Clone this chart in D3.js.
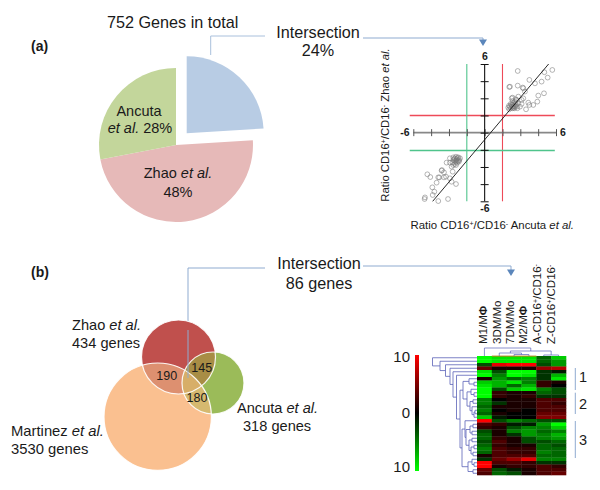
<!DOCTYPE html>
<html><head><meta charset="utf-8">
<script src="https://d3js.org/d3.v7.min.js"></script>
<style>
html,body{margin:0;padding:0;background:#fff}
svg{display:block}
text{font-family:"Liberation Sans",Arial,sans-serif;fill:#1a1a1a}
</style></head><body><svg id="c" width="600" height="490"></svg>
<script>
// ---------- data ----------
const pieNames=["Intersection","Zhao","Ancuta"];
const pieValues=[24,48,28];
const pieColors=["#b8cce4","#e6b9b8","#c3d69b"];
const axisTicks=[-6,-4.5,-3,-1.5,0,1.5,3,4.5,6];
const upX=[2.78,5.69,5.02,3.76,5.30,4.23,4.79,2.13,2.07,2.78,3.25,3.20,3.39,4.99,4.51,2.35,2.83,3.25,3.11,2.69,3.67,4.09,4.43,3.48,3.76,3.11,2.97,2.27,2.55,2.41,2.27,2.13,2.07,2.35,2.64,2.75,2.47,2.19,2.61,2.83,2.35,2.50,1.99,2.69,2.30,2.41,2.55,2.21,2.38,2.60,2.05,2.44];
const upY=[5.39,5.48,5.28,4.61,4.81,4.31,4.46,4.02,3.99,4.11,3.88,3.94,3.59,3.44,3.24,3.06,3.15,3.00,2.86,2.86,2.62,2.42,2.71,2.04,2.42,2.51,2.27,3.00,2.71,2.57,2.42,2.27,2.04,2.13,2.42,2.13,2.33,2.51,2.92,2.57,2.77,2.13,2.19,2.27,2.27,2.27,2.27,2.14,2.44,2.60,2.36,2.18];
const downX=[-4.82,-4.57,-3.59,-3.62,-3.90,-3.81,-3.42,-3.42,-3.25,-4.04,-4.40,-4.23,-4.37,-5.02,-5.05,-3.90,-3.08,-2.41,-2.78,-2.92,-2.69,-2.92,-3.20,-2.92,-2.64,-2.41,-2.21,-2.13,-2.30,-2.50,-2.64,-2.78,-2.50,-2.35,-2.21,-2.50,-2.35,-2.64,-2.07,-2.69,-2.41,-2.58,-2.28,-2.44,-2.16,-2.36];
const downY=[-3.64,-3.88,-3.27,-3.32,-3.91,-3.91,-3.47,-3.91,-3.85,-4.37,-4.78,-5.16,-5.45,-5.66,-5.80,-5.98,-5.80,-4.49,-4.29,-3.99,-3.41,-2.62,-2.62,-2.24,-2.39,-2.10,-2.16,-2.39,-2.62,-2.74,-2.83,-2.97,-2.24,-2.30,-2.45,-2.45,-2.48,-2.16,-2.24,-2.62,-2.83,-2.30,-2.20,-2.56,-2.52,-2.36];
const fitX=[-4.37,5.38];
const fitY=[-6,6];
const columns=["M1/MΦ","3DM/Mo","7DM/Mo","M2/MΦ","A-CD16+/CD16-","Z-CD16+/CD16-"];
const rows=[
[-10,-9,-9,-9,-4,-8],[-10,-9,-9,-9,-4,-6],[-3,9,10,10,-3,-6],[4,1,1,1,6,7],
[-9,-3,-10,-10,-2,-1],[-10,-5,-10,-9,-2,-7],[1,-6,-4,-5,-2,-9],[-8,-7,-9,-5,2,1],
[-9,-7,-4,-7,2,0],[-10,-3,-8,-9,-5,-3],[-10,2,1,1,-4,-3],[-10,2,1,2,-2,-2],
[-5,0,1,1,3,3],[-5,-2,1,1,3,2],[-4,1,1,1,3,3],[-5,0,1,0,3,3],
[-4,1,0,0,4,4],[-8,-1,0,0,5,5],[10,-3,-5,-4,-3,-3],[3,2,-1,-1,-6,-10],
[2,1,-3,-5,-5,-8],[-3,1,-5,-6,-4,-5],[-4,1,-2,-6,-5,-7],[-4,2,1,-3,-5,-6],
[-3,3,1,-3,-3,-4],[-4,2,1,1,-4,-3],[-5,3,2,2,-4,-4],[-4,3,2,2,-5,-4],
[1,3,3,3,-4,-4],[-2,4,6,9,-5,-5],[10,3,3,2,-2,-2],[10,1,2,2,3,2],
[4,-3,-1,1,3,3],[3,-4,-3,1,3,4]];
const rowTree=[44.5,0,[37,1,[31.5,2,[27,3,[24,4,[20.5,5,
   [17,
    [14,[8,6,[3,7,8]],[10,[6,9,[3,10,11]],[7,[4,12,13],[5,14,[3,[2,15,16],17]]]]],
    [15,[12,18,[11,[7,[4,19,20],[5,21,22]],[8,[5,23,24],[6,[3,25,26],[4,27,28]]]]],[9,[5,29,[3,30,31]],[4,32,33]]]]
  ]]]]]];
const colTree=[8,0,[5,[3,1,[1.5,2,3]],[1,4,5]]];
const colorTicks=[10,0,10];
const groupNames=["1","2","3"];
const vennNames=["Zhao","Ancuta","Martinez"];
const vennGenes=[434,318,3530];
const vennOverlap=[190,145,180];

// ---------- helpers ----------
const svg=d3.select("#c");
const label=(g,x,y,size,anchor,parts,extra)=>{
  const t=g.append("text").attr("x",x).attr("y",y).attr("font-size",size).attr("text-anchor",anchor||"start");
  parts.forEach(p=>{const s=t.append("tspan").text(p.t);
    if(p.i)s.attr("font-style","italic"); if(p.b)s.attr("font-weight","bold");
    if(p.sup){s.attr("font-size",size*.62).attr("dy",-size*.3);}
    if(p.after){s.attr("dy",size*.3);}
  });
  if(extra)extra(t);return t;};
const lineCol="#8fabd0", arrowCol="#5b86bb";
const poly=(pts,col,w)=>svg.append("path").attr("d",d3.line()(pts)).attr("fill","none").attr("stroke",col).attr("stroke-width",w||1);
const arrow=(x,y)=>svg.append("path").attr("d",d3.line()([[x-4,y-6.5],[x+4,y-6.5],[x,y]])+"Z").attr("fill",arrowCol);

// ---------- panel labels / connectors ----------
label(svg,31,51,14,"start",[{t:"(a)",b:1}]);
label(svg,31,277,14,"start",[{t:"(b)",b:1}]);
label(svg,107,28,16.2,"start",[{t:"752 Genes in total"}]);
label(svg,318,38,16.2,"middle",[{t:"Intersection"}]);
label(svg,318,56,16.2,"middle",[{t:"24%"}]);
label(svg,319,269,16.2,"middle",[{t:"Intersection"}]);
label(svg,319,289,16.2,"middle",[{t:"86 genes"}]);
poly([[210.7,55],[210.7,36],[265,36]],"#a9c0dc");
poly([[363,38],[483,38],[483,40]],lineCol);
arrow(483,46);
poly([[265,268],[188,268],[188,378]],lineCol);
poly([[363,266],[511,266],[511,270]],lineCol);
arrow(511,276);

// ---------- pie ----------
const arcs=d3.pie().sort(null).value(d=>d)(pieValues);
const arc=d3.arc().innerRadius(0).outerRadius(77);
const pieG=svg.append("g").attr("transform","translate(176,145)");
pieG.selectAll("path").data(arcs).join("path")
  .attr("d",arc).attr("fill",(d,i)=>pieColors[i])
  .attr("transform",(d,i)=>i===0?"translate(10.7,-11.7)":null);
label(svg,139,116,14.5,"middle",[{t:"Ancuta"}]);
label(svg,140,133,14.5,"middle",[{t:"et al.",i:1},{t:" 28%"}]);
label(svg,178,178,14.5,"middle",[{t:"Zhao "},{t:"et al.",i:1}]);
label(svg,178,197,14.5,"middle",[{t:"48%"}]);

// ---------- scatter ----------
const sx=d3.scaleLinear().domain([-6,6]).range([413.3,556]);
const sy=d3.scaleLinear().domain([-6,6]).range([201.3,64]);
const sc=svg.append("g");
const refRed="#ee4a58", refGreen="#4fc48c";
[[1.5,refRed],[-1.5,refGreen]].forEach(([v,c])=>{
  sc.append("path").attr("d",d3.line()([[sx(v),sy(6)],[sx(v),sy(-6)]])).attr("fill","none").attr("stroke",c).attr("stroke-width",1.1);
  sc.append("path").attr("d",d3.line()([[sx(-6.3),Math.round(sy(v))+.5],[sx(5.9),Math.round(sy(v))+.5]])).attr("fill","none").attr("stroke",c).attr("stroke-width",1.4);
});
const ax=sc.append("g").attr("transform",`translate(0,${sy(0)})`).call(d3.axisBottom(sx).tickValues(axisTicks).tickSize(3.5).tickFormat(""));
ax.selectAll("line").attr("y1",-3.5).attr("stroke","#555");
ax.select(".domain").attr("d",`M${sx(-6)},0H${sx(6)}`).attr("stroke","#888").attr("stroke-width",1.8);
const ay=sc.append("g").attr("transform",`translate(${sx(0)},0)`).call(d3.axisLeft(sy).tickValues(axisTicks).tickSize(4).tickFormat(""));
ay.selectAll("line").attr("x1",-4).attr("x2",4).attr("stroke","#111");
ay.select(".domain").attr("d",`M0,${sy(6)}V${sy(-6)}`).attr("stroke","#111").attr("stroke-width",1.1);
const pts=upX.map((x,i)=>[x,upY[i]]).concat(downX.map((x,i)=>[x,downY[i]]));
sc.selectAll("circle").data(pts).join("circle").attr("cx",d=>sx(d[0])).attr("cy",d=>sy(d[1])).attr("r",2.4)
  .attr("fill","none").attr("stroke","#777").attr("stroke-width",.55);
sc.append("line").attr("x1",sx(fitX[0])).attr("y1",sy(fitY[0])).attr("x2",sx(fitX[1])).attr("y2",sy(fitY[1])).attr("stroke","#111").attr("stroke-width",.9);
label(sc,485,60,10.5,"middle",[{t:"6",b:1}]);
label(sc,485,212,10.5,"middle",[{t:"-6",b:1}]);
label(sc,405,136,10.5,"middle",[{t:"-6",b:1}]);
label(sc,563,136,10.5,"middle",[{t:"6",b:1}]);
label(sc,410.5,229,11.4,"start",[{t:"Ratio CD16"},{t:"+",sup:1},{t:"/CD16",after:1},{t:"-",sup:1},{t:" Ancuta ",after:1},{t:"et al.",i:1}]);
label(sc,0,0,11.3,"middle",[{t:"Ratio CD16"},{t:"+",sup:1},{t:"/CD16",after:1},{t:"-",sup:1},{t:" Zhao ",after:1},{t:"et al.",i:1}],
  t=>t.attr("transform","translate(389,125) rotate(-90)"));

// ---------- venn ----------
const venn=[{c:[178.5,357],r:37,f:"#c0504d"},{c:[213,383],r:31,f:"#9bbb59"},{c:[157.7,416.7],r:53.7,f:"#fac090"}];
const defs=svg.append("defs");
venn.forEach((v,i)=>defs.append("clipPath").attr("id","v"+i).append("circle").attr("cx",v.c[0]).attr("cy",v.c[1]).attr("r",v.r));
const vg=svg.append("g").attr("id","venn");
venn.forEach(v=>vg.append("circle").attr("cx",v.c[0]).attr("cy",v.c[1]).attr("r",v.r).attr("fill",v.f));
const clipFill=(a,b,fill,third)=>{
  const g=vg.append("g").attr("clip-path",`url(#v${a})`).append("g").attr("clip-path",`url(#v${b})`);
  const host=third==null?g:g.append("g").attr("clip-path",`url(#v${third})`);
  host.append("rect").attr("width",600).attr("height",490).attr("fill",fill);
};
clipFill(0,2,"#dd9070");clipFill(0,1,"#a88d45");clipFill(1,2,"#d5b96f");clipFill(0,1,"#d7ae68",2);
venn.forEach(v=>vg.append("circle").attr("cx",v.c[0]).attr("cy",v.c[1]).attr("r",v.r).attr("fill","none").attr("stroke","#fff").attr("stroke-width",1.2).attr("stroke-opacity",.9));
poly([[188,330],[188,378]],"#8fabd0");
label(svg,166.7,380,12.5,"middle",[{t:String(vennOverlap[0])}]);
label(svg,201.7,372,12.5,"middle",[{t:String(vennOverlap[1])}]);
label(svg,197,402,12.5,"middle",[{t:String(vennOverlap[2])}]);
label(svg,72,330,14.6,"start",[{t:vennNames[0]+" "},{t:"et al.",i:1}]);
label(svg,72,347.5,14.6,"start",[{t:vennGenes[0]+" genes"}]);
label(svg,237,413,14.6,"start",[{t:vennNames[1]+" "},{t:"et al.",i:1}]);
label(svg,243,431,14.6,"start",[{t:vennGenes[1]+" genes"}]);
label(svg,11,436,14.8,"start",[{t:vennNames[2]+" "},{t:"et al.",i:1}]);
label(svg,11,453.5,14.8,"start",[{t:vennGenes[2]+" genes"}]);

// ---------- heatmap ----------
const hx=d3.scaleBand().domain(d3.range(columns.length)).range([477,566]);
const hy=d3.scaleBand().domain(d3.range(rows.length)).range([356,475]);
const col=d3.scaleLinear().domain([-10,0,10]).range(["#00ff00","#000000","#ff0000"]);
const hm=svg.append("g");
rows.forEach((r,i)=>r.forEach((v,j)=>hm.append("rect").attr("x",hx(j)).attr("y",hy(i)).attr("width",hx.bandwidth()+.3).attr("height",hy.bandwidth()+.3).attr("fill",col(v))));
hm.append("rect").attr("x",hx(1)).attr("y",355.6).attr("width",hx.bandwidth()*3).attr("height",1).attr("fill","#c08020");

// dendrograms via d3.hierarchy
const kids=d=>Array.isArray(d)?d.slice(1):null;
function placed(spec,pos){
  const root=d3.hierarchy(spec,kids);
  root.eachAfter(n=>{
    n.h=Array.isArray(n.data)?n.data[0]:0;
    n.p=n.children?d3.mean(n.children,c=>c.p):pos(n.data);
  });
  return root;
}
const den="#5a62b8";
const dx=d3.scaleLinear().domain([0,44.5]).range([477,432.5]);
const rt=placed(rowTree,i=>hy(i)+hy.bandwidth()/2);
const dg=svg.append("g").attr("fill","none").attr("stroke",den).attr("stroke-width",.8);
rt.descendants().filter(n=>n.children).forEach(n=>{
  const a=n.children[0],b=n.children[1];
  dg.append("path").attr("d",`M${dx(a.h)},${a.p}H${dx(n.h)}V${b.p}H${dx(b.h)}`);
});
const dy=d3.scaleLinear().domain([0,8]).range([356,348]);
const ct=placed(colTree,i=>hx(i)+hx.bandwidth()/2);
const dc=svg.append("g").attr("fill","none").attr("stroke",den).attr("stroke-width",.7);
ct.descendants().filter(n=>n.children).forEach(n=>{
  const a=n.children[0],b=n.children[1];
  dc.append("path").attr("d",`M${a.p},${dy(a.h)}V${dy(n.h)}H${b.p}V${dy(b.h)}`);
});

// column labels
const colX=[487,500.5,514,527,541,555];
columns.forEach((c,i)=>{
  const t=svg.append("text").attr("font-size",11.5).attr("transform",`translate(${colX[i]},344) rotate(-90)`);
  const m=c.match(/^(.*)(\+)(\/CD16)(-)$/);
  if(m){
    t.append("tspan").text(m[1]);
    t.append("tspan").text("+").attr("font-size",7).attr("dy",-3);
    t.append("tspan").text(m[3]).attr("dy",3);
    t.append("tspan").text("-").attr("font-size",7).attr("dy",-3);
  } else if(c.includes("Φ")){
    t.append("tspan").text(c.replace("Φ",""));
    t.append("tspan").text("Φ").attr("font-weight","bold");
  } else t.text(c);
});

// colour bar
const grad=defs.append("linearGradient").attr("id","cb").attr("x1",0).attr("x2",0).attr("y1",0).attr("y2",1);
[[0,"#ff0000"],[.5,"#000000"],[1,"#00ff00"]].forEach(s=>grad.append("stop").attr("offset",s[0]).attr("stop-color",s[1]));
svg.append("rect").attr("x",415).attr("y",355).attr("width",4).attr("height",116).attr("fill","url(#cb)");
[362,418,471.5].forEach((y,i)=>label(svg,410,y,15,"end",[{t:String(colorTicks[i])}]));

// cluster brackets
const bracketY=[[368,390],[392.7,414],[421,458]];
groupNames.forEach((g,i)=>{
  svg.append("line").attr("x1",575.3).attr("x2",575.3).attr("y1",bracketY[i][0]).attr("y2",bracketY[i][1]).attr("stroke",lineCol).attr("stroke-width",1);
  label(svg,583,[382,409,445][i],14.5,"middle",[{t:g}]);
});
</script></body></html>
